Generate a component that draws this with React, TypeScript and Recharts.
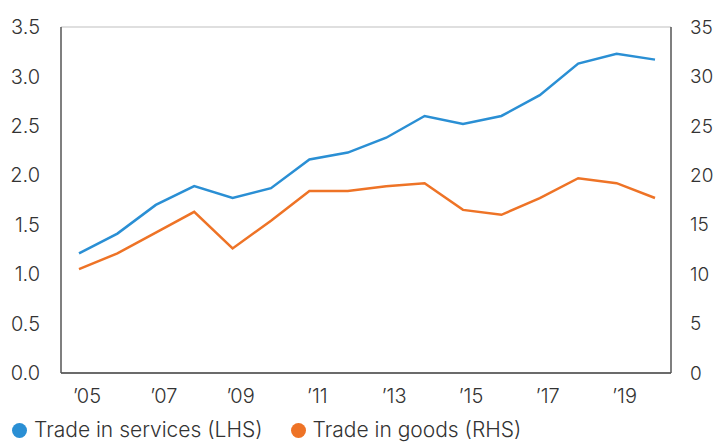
import React from "react";
import { LineChart, Line, XAxis, YAxis, CartesianGrid, Legend } from "recharts";

const years = ["2005","2006","2007","2008","2009","2010","2011","2012","2013","2014","2015","2016","2017","2018","2019","2020"];
const services = [1.21, 1.41, 1.70, 1.89, 1.77, 1.87, 2.16, 2.23, 2.38, 2.60, 2.52, 2.60, 2.81, 3.13, 3.23, 3.17];
const goods = [10.5, 12.1, 14.2, 16.3, 12.6, 15.4, 18.4, 18.4, 18.9, 19.2, 16.5, 16.0, 17.7, 19.7, 19.2, 17.7];
const leftTicks = [0, 0.5, 1, 1.5, 2, 2.5, 3, 3.5];
const rightTicks = [0, 5, 10, 15, 20, 25, 30, 35];

const data = years.map((y, i) => ({ year: y, services: services[i], goods: goods[i] }));

const FONT = "Inter, sans-serif";
const BLUE = "#2a8fd4";
const ORANGE = "#ee7326";
const TEXT = "#333333";

const XTick = (props: any) => {
  const { x, y, payload } = props;
  const label = "\u2019" + String(payload.value).slice(2);
  return (
    <text x={x + 8} y={y + 22} textAnchor="middle" fontSize={20} fill={TEXT} fontFamily={FONT} fontWeight={300}>
      {label}
    </text>
  );
};

const LegendContent = () => (
  <div style={{ display: "flex", alignItems: "center", height: 26, fontFamily: FONT, fontSize: 21, fontWeight: 300, color: TEXT, lineHeight: "26px", whiteSpace: "nowrap" }}>
    <span style={{ display: "inline-block", width: 15, height: 15, borderRadius: "50%", background: BLUE, marginLeft: 12, marginRight: 7 }} />
    <span>Trade in services (LHS)</span>
    <span style={{ display: "inline-block", width: 15, height: 15, borderRadius: "50%", background: ORANGE, marginLeft: 28, marginRight: 7 }} />
    <span>Trade in goods (RHS)</span>
  </div>
);

export default function App() {
  return (
    <div style={{ position: "absolute", left: 0, top: 0 }}>
      <LineChart width={714} height={443} data={data} margin={{ top: 27, right: 0, bottom: 0, left: 0 }}>
        <CartesianGrid vertical={false} stroke="#d4d4d4" strokeWidth={1.5} />
        <XAxis
          dataKey="year"
          interval={1}
          tickLine={false}
          axisLine={{ stroke: "#444", strokeWidth: 1.5 }}
          padding={{ left: 18, right: 16 }}
          height={44}
          tick={<XTick />}
        />
        <YAxis
          yAxisId="left"
          domain={[0, 3.5]}
          ticks={leftTicks}
          width={61}
          tickLine={false}
          axisLine={{ stroke: "#555", strokeWidth: 1.5 }}
          tickFormatter={(v: number) => v.toFixed(1)}
          tick={{ fontSize: 20, fill: TEXT, fontFamily: FONT, fontWeight: 300 }}
          tickMargin={15}
        />
        <YAxis
          yAxisId="right"
          orientation="right"
          domain={[0, 35]}
          ticks={rightTicks}
          width={43}
          tickLine={false}
          axisLine={{ stroke: "#555", strokeWidth: 1.5 }}
          tick={{ fontSize: 19, fill: TEXT, fontFamily: FONT, fontWeight: 300, textAnchor: "start" }}
          tickMargin={13}
        />
        <Legend verticalAlign="bottom" align="left" content={<LegendContent />} wrapperStyle={{ left: 0, bottom: 0 }} />
        <Line yAxisId="left" type="linear" dataKey="services" stroke={BLUE} strokeWidth={2.5} dot={false} isAnimationActive={false} />
        <Line yAxisId="right" type="linear" dataKey="goods" stroke={ORANGE} strokeWidth={2.5} dot={false} isAnimationActive={false} />
      </LineChart>
    </div>
  );
}
